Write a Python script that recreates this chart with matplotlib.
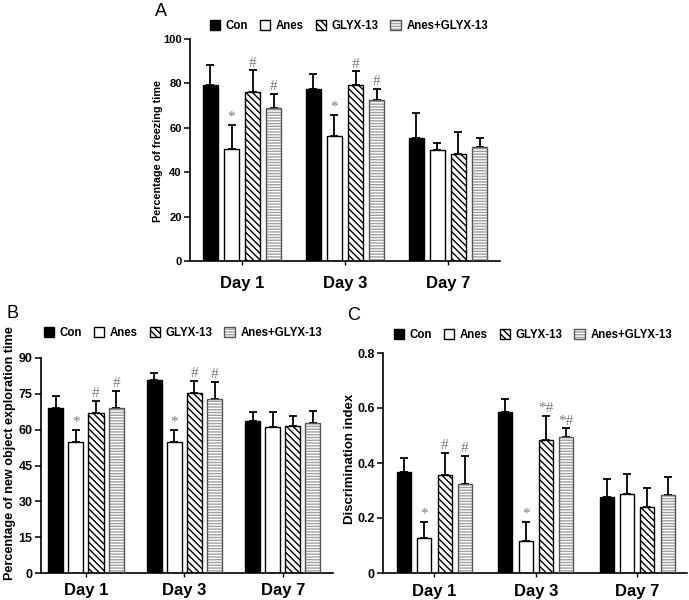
import numpy as np
import matplotlib
matplotlib.use("Agg")
import matplotlib.pyplot as plt
from matplotlib.patches import Patch

plt.rcParams["font.family"] = ["Liberation Sans", "DejaVu Sans"]
plt.rcParams["hatch.linewidth"] = 1.0

# ---------------------------------
# Data
# ---------------------------------

days = ["Day 1", "Day 3", "Day 7"]
groups = ["Con", "Anes", "GLYX-13", "Anes+GLYX-13"]

# A: freezing time (%), rows = groups, cols = days
freeze_mean = [
    [79.1, 77.7, 55.2],
    [50.4, 56.4, 49.9],
    [76.1, 79.2, 48.1],
    [68.7, 72.5, 51.3],
]
freeze_err = [
    [9.3, 6.5, 11.4],
    [11.0, 9.5, 3.3],
    [9.8, 6.2, 9.8],
    [6.6, 5.1, 4.2],
]
freeze_marks = [
    ["", "", ""],
    ["*", "*", ""],
    ["#", "#", ""],
    ["#", "#", ""],
]

# B: new object exploration time (%)
explore_mean = [
    [69.0, 80.6, 63.5],
    [54.9, 54.7, 61.1],
    [66.9, 75.3, 61.6],
    [69.0, 72.9, 63.0],
]
explore_err = [
    [5.3, 3.1, 3.9],
    [5.1, 5.3, 6.5],
    [5.3, 5.2, 4.2],
    [7.3, 7.0, 4.9],
]
explore_marks = [
    ["", "", ""],
    ["*", "*", ""],
    ["#", "#", ""],
    ["#", "#", ""],
]

# C: discrimination index
disc_mean = [
    [0.367, 0.587, 0.276],
    [0.127, 0.118, 0.287],
    [0.357, 0.483, 0.240],
    [0.323, 0.494, 0.285],
]
disc_err = [
    [0.051, 0.045, 0.065],
    [0.060, 0.069, 0.072],
    [0.081, 0.088, 0.070],
    [0.103, 0.032, 0.065],
]
disc_marks = [
    ["", "", ""],
    ["*", "*", ""],
    ["#", "*#", ""],
    ["#", "*#", ""],
]

# ---------------------------------
# Styles
# ---------------------------------

fills = ["black", "white", "white", "white"]
hatches = ["", "", "\\\\\\\\\\", "------"]
hatch_colors = ["black", "black", "black", "#a0a0a0"]
edge_colors = ["black", "black", "black", "#555555"]
mark_color = "#7a7a7a"

fig = plt.figure(figsize=(6.89, 6.0), dpi=100)


def draw_panel(ax, means, errs, marks, ylim, yticks, yticklabels,
               xlim, width, step, tick_fs, day_pad):
    x = np.arange(len(days))
    for i in range(len(groups)):
        xi = x + (i - 1.5) * step
        ax.bar(xi, means[i], width, color=fills[i],
               edgecolor=hatch_colors[i], hatch=hatches[i],
               linewidth=0, zorder=2)
        ax.bar(xi, means[i], width, fill=False,
               edgecolor=edge_colors[i], linewidth=1.0, zorder=3)
        ax.errorbar(xi, means[i],
                    yerr=[np.zeros(len(days)), errs[i]],
                    fmt="none", ecolor="black", elinewidth=1.3,
                    capsize=3, capthick=1.3, zorder=1)
        for j in range(len(days)):
            if marks[i][j]:
                ax.annotate(marks[i][j],
                            (xi[j], means[i][j] + errs[i][j]),
                            xytext=(0, 0.5), textcoords="offset points",
                            ha="center", va="bottom", fontsize=11,
                            color=mark_color, family="Liberation Serif")

    ax.set_xlim(*xlim)
    ax.set_ylim(*ylim)
    ax.set_yticks(yticks)
    ax.set_yticklabels(yticklabels, fontsize=tick_fs, fontweight="bold")
    ax.set_xticks(x)
    ax.set_xticklabels(days, fontsize=12, fontweight="bold")
    ax.tick_params(axis="x", length=3, width=1.0, pad=day_pad)
    ax.tick_params(axis="y", length=4, width=1.1, pad=2)
    for s in ["top", "right"]:
        ax.spines[s].set_visible(False)
    for s in ["left", "bottom"]:
        ax.spines[s].set_linewidth(1.2)


def add_legend(x, y):
    handles = []
    for i in range(len(groups)):
        handles.append((
            Patch(facecolor=fills[i], edgecolor=hatch_colors[i],
                  hatch=hatches[i], linewidth=0),
            Patch(facecolor="none", edgecolor=edge_colors[i],
                  linewidth=1.0),
        ))
    fig.legend(handles, groups, loc="center left",
               bbox_to_anchor=(x - 5 / 689, y),
               ncol=4, frameon=False, borderpad=0, handlelength=0.9,
               handleheight=0.9, handletextpad=0.5, columnspacing=1.0,
               prop={"size": 8.3, "weight": "bold"})


# ---------------------------------
# Panel A
# ---------------------------------

ax_a = fig.add_axes([190 / 689, 1 - 261 / 600, 310 / 689, 222 / 600])
draw_panel(ax_a, freeze_mean, freeze_err, freeze_marks,
           (0, 100), [0, 20, 40, 60, 80, 100],
           ["0", "20", "40", "60", "80", "100"],
           (-0.505, 2.505), 0.15, 0.204, 8, 8)
fig.text(158 / 689, 1 - 151.5 / 600, "Percentage of freezing time",
         rotation=90, ha="center", va="center", fontsize=7.8,
         fontweight="bold")
fig.text(155 / 689, 1 - 11 / 600, "A", ha="left", va="center", fontsize=13)
add_legend(209 / 689, 1 - 26 / 600)

# ---------------------------------
# Panel B
# ---------------------------------

ax_b = fig.add_axes([41 / 689, 1 - 573 / 600, 292 / 689, 215 / 600])
draw_panel(ax_b, explore_mean, explore_err, explore_marks,
           (0, 90), [0, 15, 30, 45, 60, 75, 90],
           ["0", "15", "30", "45", "60", "75", "90"],
           (-0.457, 2.51), 0.153, 0.204, 9, 4)
fig.text(10 / 689, 1 - 453 / 600,
         "Percentage of new object exploration time",
         rotation=90, ha="center", va="center", fontsize=9.1,
         fontweight="bold")
fig.text(7 / 689, 1 - 314 / 600, "B", ha="left", va="center", fontsize=13)
add_legend(43 / 689, 1 - 333 / 600)

# ---------------------------------
# Panel C
# ---------------------------------

ax_c = fig.add_axes([383 / 689, 1 - 573 / 600, 304 / 689, 220 / 600])
draw_panel(ax_c, disc_mean, disc_err, disc_marks,
           (0, 0.8), [0, 0.2, 0.4, 0.6, 0.8],
           ["0", "0.2", "0.4", "0.6", "0.8"],
           (-0.507, 2.49), 0.138, 0.2, 9, 5)
fig.text(350 / 689, 1 - 459 / 600, "Discrimination index",
         rotation=90, ha="center", va="center", fontsize=9.5,
         fontweight="bold")
fig.text(347 / 689, 1 - 315 / 600, "C", ha="left", va="center", fontsize=13)
add_legend(393 / 689, 1 - 335 / 600)

fig.savefig("out.png", dpi=100)
plt.close(fig)
